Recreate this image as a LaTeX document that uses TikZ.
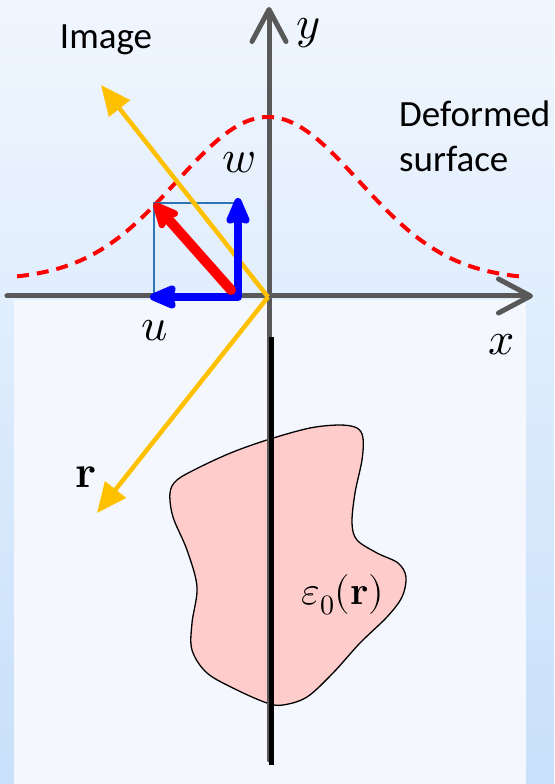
\documentclass[tikz,border=0pt]{standalone}
\usepackage{amsmath,amssymb}
\usepackage{fontspec}
\usepackage{unicode-math}
\setmathfont{Latin Modern Math}
\newfontfamily\calibri{Carlito}
\usepackage{tikz}
\usetikzlibrary{arrows.meta,positioning}
\usepackage{xcolor}
\definecolor{axisgray}{RGB}{89,89,89}
\definecolor{bgtop}{RGB}{240,246,254}
\definecolor{bgbot}{RGB}{200,224,250}
\definecolor{panel}{RGB}{244,248,254}
\definecolor{gold}{RGB}{255,192,0}
\definecolor{boxblue}{RGB}{46,117,182}
\definecolor{blobpink}{RGB}{255,204,204}

\begin{document}
\begin{tikzpicture}[x=1pt,y=1pt,
    axisline/.style={axisgray,line width=5pt,line cap=round,-{Straight Barb[length=32pt,width=34pt,round]}},
    rayvec/.style={gold,line width=4.5pt,-{Triangle[length=30pt,width=26pt]}},
    dispvec/.style={blue,line width=7.5pt,line join=round,{Stealth[length=33pt,width=27pt,inset=4pt,round]}-{Stealth[length=33pt,width=27pt,inset=4pt,round]}},
    tiltvec/.style={red,line width=10pt,line cap=round,-{Stealth[length=32pt,width=29pt,inset=6pt,round]}},
    mathlab/.style={inner sep=0pt,font=\fontsize{46}{46}\selectfont},
    textlab/.style={inner sep=0pt,font=\calibri\fontsize{37}{45}\selectfont}]
    \useasboundingbox (-268,-487) rectangle (286,297);

    % Background
    \shade[top color=bgtop,bottom color=bgbot] (-268,-487) rectangle (286,297);
    \fill[panel] (-254,-3) rectangle (258,-487);

    % Points
    \coordinate (O) at (0,0);
    \coordinate (xl) at (-261,1);
    \coordinate (xr) at (265,1);
    \coordinate (yb) at (1,-463);
    \coordinate (yt) at (1,290);
    \coordinate (lineTop) at (3,-40);
    \coordinate (lineBot) at (3,-468);
    \coordinate (imgTip) at (-167,212);
    \coordinate (rTip) at (-171,-216);
    \coordinate (C) at (-30,0);
    \coordinate (wTip) at (-30,99);
    \coordinate (uTip) at (-118,0);
    \coordinate (P) at (-114,94);
    \coordinate (tiltStart) at (-37,7);

    % Material region
    \filldraw[fill=blobpink,draw=black,line width=1.3pt] plot[smooth cycle,tension=0.55] coordinates {
        (2,-142) (42,-131) (72,-128) (89,-131) (95,-141) (94,-163) (87,-196)
        (84,-226) (89,-243) (109,-256) (130,-266) (138,-280) (134,-300)
        (119,-320) (92,-346) (65,-376) (39,-400) (15,-408) (-1,-406)
        (-31,-393) (-61,-376) (-76,-353) (-76,-326) (-71,-290) (-81,-253)
        (-95,-220) (-98,-196) (-91,-183) (-68,-170) (-35,-155)};

    % Axes and the cut line
    \draw[axisline] (yb) -- (yt);
    \draw[line width=5pt] (lineTop) -- (lineBot);
    \draw[axisline] (xl) -- (xr);

    % Deformed surface
    \draw[red,line width=4pt,dash pattern=on 12pt off 8pt]
        plot[domain=-251:254,samples=120] (\x,{17+163*exp(-(\x/100)^2/1.6562)});

    % Displacement box
    \draw[boxblue,line width=1.5pt] (C) rectangle (P);

    % Rays
    \draw[rayvec] (O) -- (imgTip);
    \draw[rayvec] (O) -- (rTip);

    % Displacement vectors
    \draw[dispvec] (wTip) -- (C) -- (uTip);
    \draw[tiltvec] (tiltStart) -- (P);

    \node[mathlab] (ylab) at (40,264) {$y$};
    \node[mathlab] (xlab) at (234,-48) {$x$};
    \node[mathlab] (wlab) at (-29,134) {$w$};
    \node[mathlab] (ulab) at (-113,-34) {$u$};
    \node[mathlab] (rlab) at (-182,-180) {$\mathbf{r}$};
    \node[mathlab,font=\fontsize{40}{40}\selectfont] (epslab) at (75,-298) {$\varepsilon_0(\mathbf{r})$};
    \node[textlab] (imglab) at (-162,257) {Image};
    \node[textlab,anchor=north west,align=left] (deflab) at (131,196) {Deformed\\surface};
\end{tikzpicture}
\end{document}
